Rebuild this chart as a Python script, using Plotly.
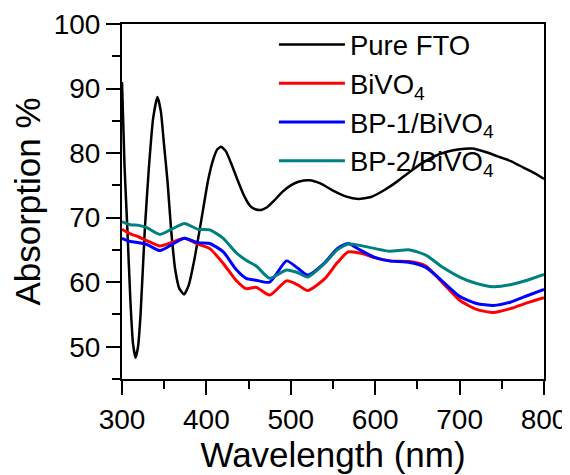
import plotly.graph_objects as go

# Pure FTO (black)
wl_fto = [300, 303, 306.4, 310, 313, 316, 319, 322, 327, 332, 337, 342, 346, 350, 354,
          358, 363, 368, 373.5, 379, 385, 392, 397, 402, 408, 413, 417.5, 423, 430, 437,
          445, 452, 458, 465, 472, 480, 490, 500, 510, 522, 535, 550, 565, 580, 595, 610,
          625, 640, 655, 670, 685, 700, 715, 730, 745, 760, 775, 790, 800]
ab_fto = [91.0, 78, 68.1, 57, 50.5, 48.3, 50, 55, 68.1, 78, 85.5, 88.7, 86.5, 81, 75.5,
          68.5, 62, 59, 58.1, 59.5, 63, 68.1, 72, 75.8, 79, 80.6, 81, 80.3, 78.2, 75.8,
          73.3, 71.8, 71.3, 71.2, 71.6, 72.6, 74, 75, 75.6, 75.8, 75.3, 74.2, 73.3, 72.9, 73.2, 74.2,
          75.5, 77, 78.4, 79.5, 80.2, 80.6, 80.7, 80.2, 79.5, 78.8, 77.8, 76.8, 76.0]

# Samples share one wavelength grid
wl = [300, 310, 320, 330, 345, 360, 374, 390, 404, 420, 435, 447, 459, 475, 495, 508,
      520, 540, 555, 568, 582, 600, 617, 641, 660, 680, 700, 720, 740, 760, 780, 800]
ab_bivo4 = [68.2, 67.5, 67.0, 66.4, 65.6, 66.2, 66.8, 65.9, 65.2, 62.9, 60.3, 59.0, 59.2, 58.0, 60.2, 59.6,
            58.7, 60.5, 63.0, 64.7, 64.5, 63.8, 63.3, 63.2, 62.5, 59.9, 57.2, 55.8, 55.3, 55.9, 56.8, 57.6]
ab_bp1 = [66.8, 66.3, 66.1, 65.8, 64.9, 65.9, 66.8, 66.1, 66.0, 64.7, 62.0, 60.6, 60.3, 60.0, 63.3, 62.2,
          61.1, 63.0, 65.2, 66.0, 65.0, 63.8, 63.3, 63.05, 62.3, 60.1, 57.8, 56.7, 56.4, 56.9, 57.9, 58.9]
ab_bp2 = [69.4, 68.9, 68.8, 68.4, 67.4, 68.3, 69.1, 68.2, 68.1, 66.8, 64.6, 63.4, 62.5, 60.6, 61.9, 61.5,
          60.8, 62.9, 65.0, 65.9, 65.7, 65.2, 64.8, 65.0, 64.2, 62.3, 60.8, 59.8, 59.3, 59.6, 60.3, 61.2]

names = ["Pure FTO", "BiVO<sub>4</sub>", "BP-1/BiVO<sub>4</sub>", "BP-2/BiVO<sub>4</sub>"]
colors = ["#000000", "#FF0000", "#0000FF", "#008080"]

FONT = "Liberation Sans, Arial, sans-serif"

fig = go.Figure()
fig.add_trace(go.Scatter(x=wl_fto, y=ab_fto, mode="lines", name=names[0],
                         line=dict(color=colors[0], width=2.5, shape="spline", smoothing=0.5)))
for ys, nm, c in zip([ab_bivo4, ab_bp1, ab_bp2], names[1:], colors[1:]):
    fig.add_trace(go.Scatter(x=wl, y=ys, mode="lines", name=nm,
                             line=dict(color=c, width=3, shape="spline", smoothing=0.6)))

axis_common = dict(showline=True, linecolor="black", linewidth=2, mirror=True,
                   ticks="outside", ticklen=14, tickwidth=2, tickcolor="black",
                   showgrid=False, zeroline=False, automargin=False,
                   tickfont=dict(family=FONT, size=28, color="black"))

# page body has an 8px margin, so the figure is 8px smaller than the window
fig.update_layout(
    width=562, height=467,
    margin=dict(l=114, r=26, t=16, b=96),
    plot_bgcolor="white", paper_bgcolor="white",
    font=dict(family=FONT, color="black"),
    showlegend=True,
    legend=dict(x=0.36, y=1.011, xanchor="left", yanchor="top",
                itemwidth=66,
                bgcolor="rgba(0,0,0,0)", font=dict(family=FONT, size=27.5, color="black"),
                tracegroupgap=0),
    xaxis=dict(range=[300, 800], dtick=100, tick0=300,
               minor=dict(dtick=50, ticklen=8, tickwidth=2, tickcolor="black", ticks="outside"),
               title=dict(text="Wavelength (nm)", font=dict(family=FONT, size=35, color="black"), standoff=4),
               **axis_common),
    yaxis=dict(range=[45, 100], dtick=10, tick0=50,
               minor=dict(dtick=5, ticklen=8, tickwidth=2, tickcolor="black", ticks="outside"),
               title=dict(text="Absorption %", font=dict(family=FONT, size=35, color="black"), standoff=6),
               **axis_common),
)

fig.write_html("out.html")
